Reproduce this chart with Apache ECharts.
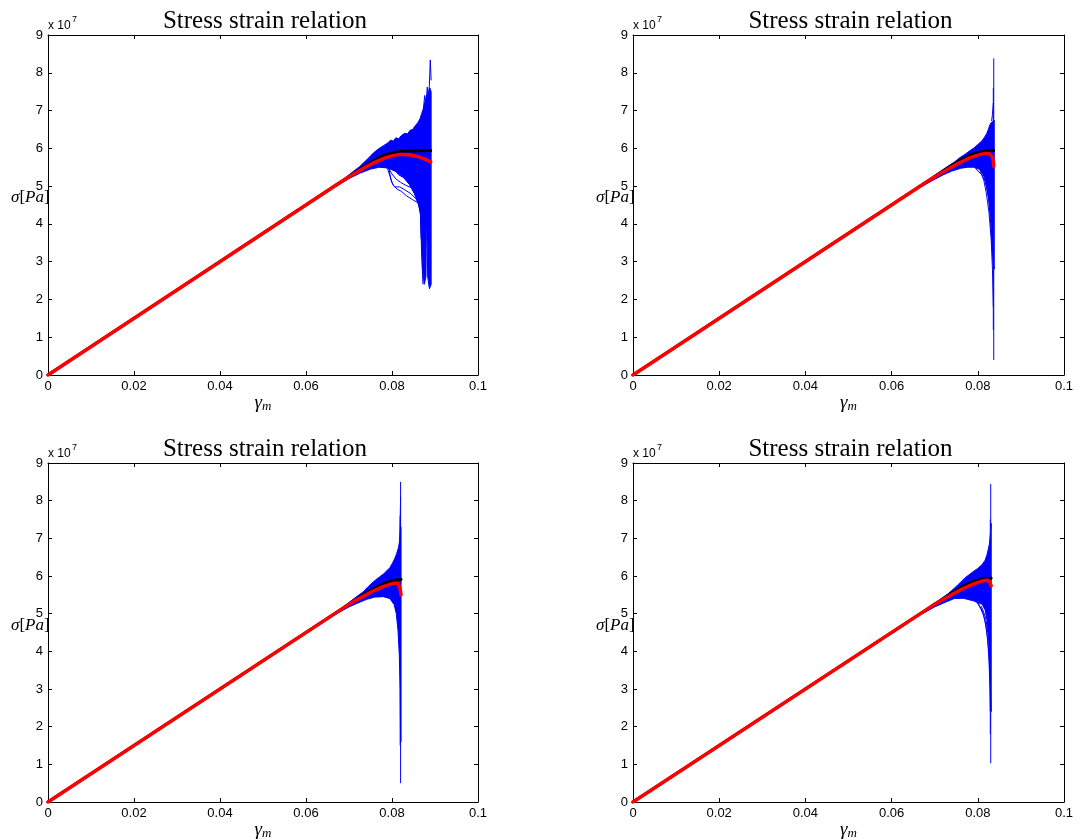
<!DOCTYPE html>
<html>
<head>
<meta charset="utf-8">
<script src="https://cdn.jsdelivr.net/npm/echarts@6/dist/echarts.min.js"></script>
<style>
  html, body { margin: 0; padding: 0; background: #fff; }
  #chart { width: 1081px; height: 840px; }
</style>
</head>
<body>
<div id="chart"></div>
<script>
// Tick labels (stress is plotted in units of 1e7 Pa)
const xTickLabels = ['0', '0.02', '0.04', '0.06', '0.08', '0.1'];
const yTickLabels = ['0', '1', '2', '3', '4', '5', '6', '7', '8', '9'];
const panelTitle = 'Stress strain relation';

// ---- Run 1 ----
const red1 = [[0,0],[0.068,5.10],[0.070,5.25],[0.072,5.38],[0.074,5.51],[0.076,5.63],[0.078,5.73],[0.080,5.80],[0.082,5.84],[0.084,5.83],[0.086,5.78],[0.0875,5.72],[0.089,5.64]];
const black1 = [[0,0],[0.074,5.55],[0.076,5.69],[0.078,5.81],[0.080,5.88],[0.082,5.92],[0.084,5.93],[0.089,5.94]];
const band1 = [[0.067,5.02],[0.070,5.30],[0.0725,5.52],[0.0745,5.74],[0.0757,5.88],[0.0768,5.98],[0.078,6.07],[0.0790,6.14],[0.0797,6.22],[0.0803,6.19],[0.0809,6.28],[0.0815,6.25],[0.0822,6.34],[0.0830,6.40],[0.0836,6.38],[0.0842,6.48],[0.0848,6.50],[0.0854,6.60],[0.0860,6.68],[0.0865,6.78],[0.0869,6.92],[0.0873,7.05],[0.0877,7.25],[0.0881,7.40],[0.0885,7.50],[0.0888,7.60],[0.0891,7.50],
  [0.0891,2.40],[0.0887,2.28],[0.0883,2.60],[0.0881,4.00],[0.0880,4.00],[0.0879,2.60],[0.0875,2.40],[0.0871,2.80],[0.0869,3.50],[0.0867,4.20],[0.0862,4.50],[0.0852,4.80],[0.0840,5.05],[0.0825,5.25],[0.0810,5.38],[0.0790,5.48],[0.0770,5.50],[0.0750,5.45],[0.0725,5.34],[0.0700,5.20],[0.067,4.99]];
const samples1 = [
  [[0.0780,5.60],[0.0790,5.45],[0.0797,5.20],[0.0803,5.02],[0.0812,4.92],[0.0822,4.86],[0.0834,4.74],[0.0848,4.64],[0.0860,4.56],[0.0866,4.40],[0.0868,3.60]],
  [[0.0788,5.55],[0.0800,5.32],[0.0810,5.18],[0.0820,5.10],[0.0832,5.02],[0.0845,4.96],[0.0856,4.84],[0.0864,4.66]],
  [[0.0795,5.52],[0.0808,5.40],[0.0822,5.28],[0.0836,5.16],[0.0850,5.05],[0.0860,4.90],[0.0866,4.70]],
  [[0.0800,5.55],[0.0815,5.30],[0.0828,5.22],[0.0842,5.10],[0.0858,4.75],[0.0866,4.30],[0.0869,3.20],[0.0872,2.40]],
  [[0.0792,5.50],[0.0799,5.10],[0.0806,4.98],[0.0818,4.98],[0.0830,4.90],[0.0844,4.80],[0.0856,4.66],[0.0864,4.50]],
  [[0.0872,6.90],[0.0876,7.40],[0.0879,7.15],[0.0882,7.62],[0.0885,7.30],[0.0887,7.70],[0.0889,8.34],[0.0891,7.80]]
];

// ---- Run 2 ----
const red2 = [[0,0],[0.068,5.10],[0.070,5.25],[0.072,5.38],[0.074,5.51],[0.076,5.63],[0.078,5.74],[0.080,5.82],[0.0815,5.86],[0.0825,5.86],[0.0830,5.83],[0.0834,5.76],[0.0836,5.66],[0.0837,5.52]];
const black2 = [[0,0],[0.074,5.55],[0.076,5.69],[0.078,5.81],[0.080,5.89],[0.082,5.93],[0.0837,5.94]];
const band2 = [[0.067,5.02],[0.070,5.29],[0.0730,5.52],[0.0745,5.63],[0.0759,5.76],[0.0770,5.84],[0.0782,5.94],[0.0790,6.00],[0.0798,6.08],[0.0805,6.15],[0.0811,6.22],[0.0816,6.30],[0.0821,6.40],[0.0825,6.52],[0.0828,6.62],[0.0831,6.68],[0.0834,6.70],[0.0838,6.75],
  [0.0838,2.80],[0.0835,3.00],[0.0833,3.60],[0.0830,4.20],[0.0826,4.60],[0.0821,4.95],[0.0815,5.25],[0.0805,5.44],[0.0790,5.50],[0.0775,5.50],[0.0760,5.47],[0.0740,5.40],[0.0720,5.30],[0.0700,5.18],[0.067,4.99]];
const samples2 = [
  [[0.0837,0.40],[0.0837,8.38]],
  [[0.0836,1.20],[0.0836,7.60]],
  [[0.0805,5.42],[0.0814,5.15],[0.0820,4.80],[0.0826,4.30],[0.0831,3.60],[0.0834,2.80],[0.0836,1.80]],
  [[0.0790,5.55],[0.0800,5.40],[0.0810,5.30],[0.0818,5.10],[0.0825,4.70],[0.0830,4.00],[0.0834,3.20]],
  [[0.0832,6.72],[0.0834,6.90],[0.0836,7.20]]
];

// ---- Run 3 ----
const red3 = [[0,0],[0.068,5.10],[0.070,5.25],[0.072,5.38],[0.074,5.50],[0.076,5.62],[0.078,5.72],[0.0795,5.78],[0.0808,5.81],[0.0814,5.80],[0.0817,5.75],[0.0819,5.66],[0.0821,5.50]];
const black3 = [[0,0],[0.074,5.55],[0.076,5.68],[0.078,5.79],[0.080,5.88],[0.0821,5.91]];
const band3 = [[0.067,5.02],[0.070,5.30],[0.0733,5.58],[0.0745,5.72],[0.0757,5.85],[0.0768,5.95],[0.0780,6.05],[0.0788,6.14],[0.0795,6.22],[0.0801,6.34],[0.0807,6.48],[0.0811,6.60],[0.0815,6.75],[0.0818,6.95],[0.0820,7.30],[0.0821,7.30],
  [0.0821,1.60],[0.0820,1.60],[0.0819,3.00],[0.0817,3.90],[0.0814,4.55],[0.0810,5.00],[0.0805,5.24],[0.0795,5.40],[0.0780,5.45],[0.0760,5.44],[0.0741,5.38],[0.0720,5.28],[0.0700,5.18],[0.067,4.99]];
const samples3 = [
  [[0.0820,0.50],[0.0820,8.50]],
  [[0.0819,1.50],[0.0819,7.60]],
  [[0.0818,6.90],[0.0819,7.50],[0.0820,8.10]]
];

// ---- Run 4 ----
const red4 = [[0,0],[0.068,5.10],[0.070,5.25],[0.072,5.38],[0.074,5.51],[0.076,5.63],[0.078,5.74],[0.080,5.83],[0.0815,5.88],[0.0822,5.89],[0.0827,5.86],[0.0831,5.74]];
const black4 = [[0,0],[0.074,5.55],[0.076,5.69],[0.078,5.81],[0.080,5.89],[0.082,5.93],[0.0831,5.94]];
const band4 = [[0.067,5.02],[0.070,5.28],[0.0730,5.52],[0.0745,5.67],[0.0759,5.82],[0.0770,5.95],[0.0782,6.05],[0.0792,6.14],[0.0800,6.20],[0.0805,6.25],[0.0811,6.32],[0.0817,6.42],[0.0821,6.55],[0.0824,6.69],[0.0827,6.85],[0.0829,7.10],[0.0831,7.40],
  [0.0831,2.40],[0.0830,2.80],[0.0829,3.20],[0.0826,4.20],[0.0822,4.80],[0.0817,5.10],[0.0810,5.25],[0.0790,5.34],[0.0766,5.41],[0.0745,5.40],[0.0720,5.28],[0.0700,5.18],[0.067,4.99]];
const samples4 = [
  [[0.0830,1.03],[0.0830,8.44]],
  [[0.0829,1.80],[0.0829,7.50]],
  [[0.0800,5.30],[0.0810,5.08],[0.0817,4.80],[0.0822,4.40],[0.0826,3.80],[0.0828,3.00],[0.0829,2.40]],
  [[0.0795,5.36],[0.0806,5.15],[0.0814,4.95],[0.0820,4.60],[0.0825,4.10],[0.0828,3.40]],
  [[0.0808,5.20],[0.0815,5.00],[0.0819,4.85],[0.0823,4.50]]
];

const runs = [
  { red: red1, black: black1, band: band1, samples: samples1 },
  { red: red2, black: black2, band: band2, samples: samples2 },
  { red: red3, black: black3, band: band3, samples: samples3 },
  { red: red4, black: black4, band: band4, samples: samples4 }
];

// Subplot boxes (pixels)
const boxes = [
  { left: 48,  top: 35,  width: 430, height: 340 },
  { left: 633, top: 35,  width: 431, height: 340 },
  { left: 48,  top: 463, width: 430, height: 339 },
  { left: 633, top: 463, width: 431, height: 339 }
];

const BLUE = '#0000ff', RED = '#ff0000', INK = '#000000';
const sans = 'Liberation Sans, Arial, Helvetica, sans-serif';
const serif = 'Liberation Serif, Times New Roman, serif';

const grid = [], xAxis = [], yAxis = [], series = [], graphic = [];

boxes.forEach((b, p) => {
  grid.push({ left: b.left, top: b.top, width: b.width, height: b.height, containLabel: false, show: false });

  const tick = { show: true, inside: true, length: 4, lineStyle: { color: INK, width: 1 } };
  const line = { show: true, onZero: false, lineStyle: { color: INK, width: 1 } };
  const xBase = { gridIndex: p, type: 'value', min: 0, max: 0.1, interval: 0.02, splitLine: { show: false }, axisLine: line, axisTick: tick };
  const yBase = { gridIndex: p, type: 'value', min: 0, max: 9, interval: 1, splitLine: { show: false }, axisLine: line, axisTick: tick };

  xAxis.push(Object.assign({}, xBase, {
    position: 'bottom',
    axisLabel: { color: INK, fontFamily: sans, fontSize: 13, margin: 5,
      formatter: v => xTickLabels[Math.round(v / 0.02)] }
  }));
  xAxis.push(Object.assign({}, xBase, { position: 'top', axisLabel: { show: false } }));
  yAxis.push(Object.assign({}, yBase, {
    position: 'left',
    axisLabel: { color: INK, fontFamily: sans, fontSize: 13, margin: 5,
      formatter: v => yTickLabels[Math.round(v)] }
  }));
  yAxis.push(Object.assign({}, yBase, { position: 'right', axisLabel: { show: false } }));

  const ax = { xAxisIndex: 2 * p, yAxisIndex: 2 * p };
  const run = runs[p];

  // dense part of the sample bundle
  series.push(Object.assign({
    type: 'custom', silent: true, z: 1,
    data: run.band,
    renderItem: (params, api) => {
      if (params.dataIndex !== 0) return null;
      return {
        type: 'polygon',
        shape: { points: run.band.map(pt => api.coord(pt)) },
        style: { fill: BLUE, stroke: BLUE, lineWidth: 1 }
      };
    }
  }, ax));

  // individual sample curves outside the dense part
  run.samples.forEach(s => {
    series.push(Object.assign({
      type: 'line', data: s, showSymbol: false, silent: true, z: 2,
      lineStyle: { color: BLUE, width: 1 }
    }, ax));
  });

  series.push(Object.assign({
    type: 'line', data: run.black, showSymbol: false, silent: true, z: 3,
    lineStyle: { color: INK, width: 3, join: 'round', cap: 'round' }
  }, ax));
  series.push(Object.assign({
    type: 'line', data: run.red, showSymbol: false, silent: true, z: 4,
    lineStyle: { color: RED, width: 3.5, join: 'round', cap: 'round' }
  }, ax));

  const cx = b.left + b.width / 2 + 2;
  // title
  graphic.push({ type: 'text', x: cx, y: b.top - 14,
    style: { text: panelTitle, font: '25px ' + serif, fill: INK, align: 'center', verticalAlign: 'middle' } });
  // exponent note
  graphic.push({ type: 'text', x: b.left, y: b.top - 9,
    style: { text: 'x 10', font: '12px ' + sans, fill: INK, align: 'left', verticalAlign: 'middle' } });
  graphic.push({ type: 'text', x: b.left + 24, y: b.top - 15,
    style: { text: '7', font: '9px ' + sans, fill: INK, align: 'left', verticalAlign: 'middle' } });
  // y label
  graphic.push({ type: 'text', x: b.left - 37, y: b.top + 163,
    style: { text: '{i|σ}{u|[}{i|Pa}{u|]}', fill: INK, align: 'left', verticalAlign: 'middle',
      rich: { i: { fontFamily: serif, fontStyle: 'italic', fontSize: 17 }, u: { fontFamily: serif, fontSize: 17 } } } });
  // x label
  graphic.push({ type: 'text', x: cx - 3, y: b.top + b.height + 28,
    style: { text: 'γ', font: 'italic 19px ' + serif, fill: INK, align: 'right', verticalAlign: 'middle' } });
  graphic.push({ type: 'text', x: cx - 3, y: b.top + b.height + 32,
    style: { text: 'm', font: 'italic 13px ' + serif, fill: INK, align: 'left', verticalAlign: 'middle' } });
});

const chart = echarts.init(document.getElementById('chart'), null, { renderer: 'canvas' });
chart.setOption({
  animation: false,
  backgroundColor: '#ffffff',
  grid, xAxis, yAxis, series, graphic
});
</script>
</body>
</html>
